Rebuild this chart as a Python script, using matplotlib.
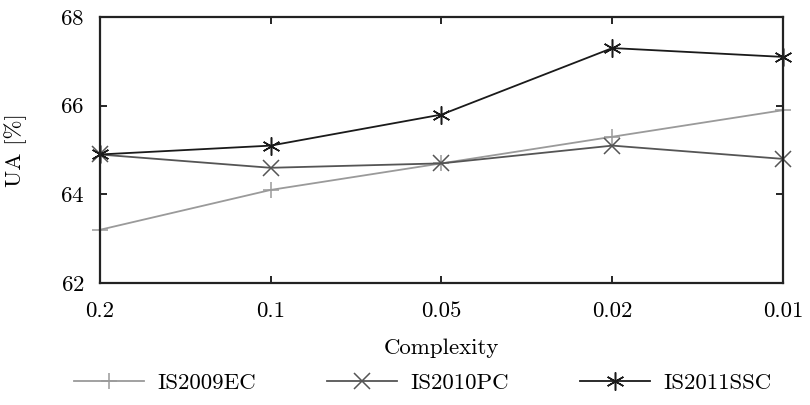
import matplotlib
matplotlib.use('Agg')
from matplotlib import pyplot as plt

# complexity levels on the x axis (equally spaced categories)
complexity = ['0.2', '0.1', '0.05', '0.02', '0.01']
is2009ec = [63.2, 64.1, 64.7, 65.3, 65.9]
is2010pc = [64.9, 64.6, 64.7, 65.1, 64.8]
is2011ssc = [64.9, 65.1, 65.8, 67.3, 67.1]

plt.rcParams['font.family'] = ['cmr10', 'DejaVu Serif']
plt.rcParams['mathtext.fontset'] = 'cm'
plt.rcParams['axes.unicode_minus'] = False
plt.rcParams['axes.formatter.use_mathtext'] = True

fs = 16.5
fig = plt.figure(figsize=(8.1, 4.05), dpi=100)
ax = fig.add_axes([0.123, 0.301, 0.844, 0.657])

x = list(range(len(complexity)))
ax.plot(x, is2009ec, color='#9a9a9a', lw=1.3, marker='+', ms=12, mew=1.1, label='IS2009EC', clip_on=False)
ax.plot(x, is2010pc, color='#555555', lw=1.3, marker='x', ms=12, mew=1.1, label='IS2010PC', clip_on=False)
ax.plot(x, is2011ssc, color='#1a1a1a', lw=1.3, marker=(6, 2, 0), ms=13, mew=1.1, label='IS2011SSC', clip_on=False)

ax.set_xlim(0, 4)
ax.set_ylim(62, 68)
ax.set_xticks(x)
ax.set_xticklabels(complexity)
ax.set_yticks([62, 64, 66, 68])
ax.tick_params(direction='in', top=True, right=True, length=5, width=1.2, labelsize=fs)
ax.tick_params(axis='x', pad=13)
ax.tick_params(axis='y', pad=11)
for s in ax.spines.values():
    s.set_linewidth(1.6)
    s.set_color('#222222')

ax.set_xlabel('Complexity', fontsize=fs, labelpad=13)
ax.set_ylabel('UA [%]', fontsize=fs, labelpad=24)

fig.legend(loc='center', bbox_to_anchor=(0.522, 0.055), ncol=3, frameon=False,
           fontsize=fs, handlelength=3.05, handletextpad=0.6, columnspacing=3.1)

fig.savefig('out.png', dpi=100)
